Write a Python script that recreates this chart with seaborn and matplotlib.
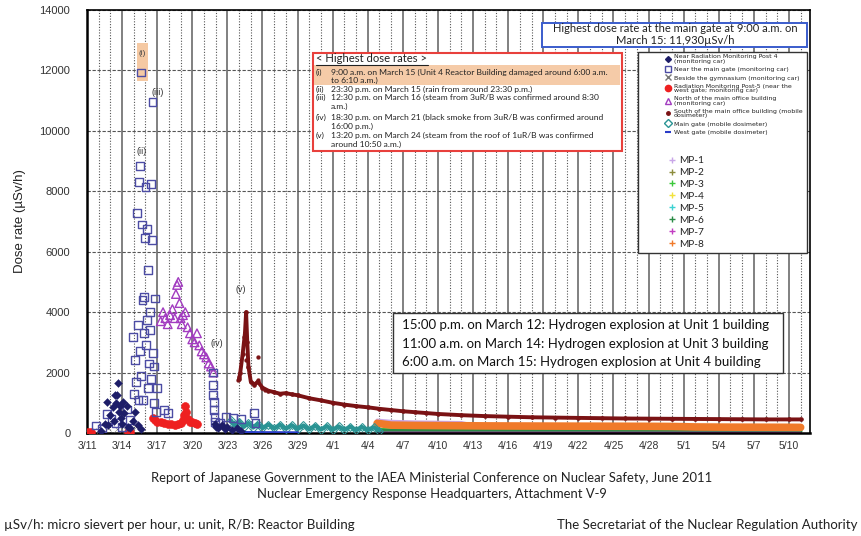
import matplotlib
matplotlib.use("Agg")
import matplotlib.pyplot as plt
from matplotlib.lines import Line2D
from matplotlib.patches import Rectangle
from matplotlib.ticker import MultipleLocator
import seaborn as sns
import pandas as pd

sns.set_theme(style="white")
plt.rcParams['font.family'] = ['Liberation Sans', 'DejaVu Sans']
BOX_FONT = ['Lato', 'DejaVu Sans']

# ---- data (x = days since 3/11 00:00, y = dose rate in uSv/h) ----
x_tick_labels = ['3/11', '3/14', '3/17', '3/20', '3/23', '3/26', '3/29', '4/1', '4/4', '4/7',
                 '4/10', '4/13', '4/16', '4/19', '4/22', '4/25', '4/28', '5/1', '5/4', '5/7', '5/10']

post4_day = [1.2, 1.5, 1.7, 1.8, 2.0, 2.2, 2.3, 2.4, 2.5, 2.6, 2.65, 2.75, 2.8, 2.9, 3.0, 3.1, 3.2,
             3.4, 3.5, 3.7, 3.9, 4.1, 4.4, 4.6, 10.9, 11.0, 11.2, 11.5, 11.8, 12.0, 12.4, 12.8, 13.2]
post4_val = [60, 300, 1030, 250, 600, 850, 400, 1260, 1000, 1250, 1660, 700, 900, 500, 300, 1030, 650,
             900, 200, 150, 400, 700, 250, 120, 300, 200, 150, 250, 120, 200, 100, 150, 80]

gate_day = [0.8, 1.3, 1.7, 2.1, 2.5, 3.0, 3.4, 3.7, 3.9, 4.0, 4.1, 4.2, 4.3, 4.35, 4.4, 4.45, 4.5,
            4.55, 4.65, 4.65, 4.7, 4.75, 4.8, 4.85, 4.9, 4.95, 5.0, 5.05, 5.1, 5.15, 5.2, 5.25, 5.3,
            5.35, 5.4, 5.45, 5.5, 5.55, 5.6, 5.65, 5.7, 5.75, 5.8, 5.9, 6.0, 6.6, 6.9,
            10.75, 10.8, 10.8, 10.85, 10.85, 10.9, 10.95, 11.4, 11.9, 12.5, 13.2, 14.3, 14.4]
gate_val = [250, 150, 640, 450, 330, 200, 780, 420, 3190, 1300, 2420, 1700, 7290, 3580, 1100, 8300, 2700,
            8850, 11930, 1900, 6900, 4400, 1100, 3300, 4500, 6450, 8150, 2900, 3750, 6750, 1500, 5400, 2300,
            4000, 3400, 1800, 8250, 6400, 10950, 2650, 2200, 1000, 4450, 700, 1500, 760, 650,
            2000, 1600, 1250, 1030, 760, 530, 370, 330, 530, 500, 460, 660, 330]

gym_day = [1.0, 1.8, 2.6, 3.3, 4.2]
gym_val = [80, 150, 120, 90, 200]

post5_day = [0.1, 0.3, 3.5, 3.7, 5.6, 5.8, 6.0, 6.3, 6.6, 6.9, 7.2, 7.5, 7.8, 8.0, 8.2, 8.3, 8.4,
             8.5, 8.6, 8.8, 9.0, 9.2, 9.4]
post5_val = [30, 20, 30, 20, 500, 420, 380, 360, 330, 300, 290, 280, 300, 330, 420, 600, 900,
             700, 450, 350, 380, 330, 300]

north_day = [6.3, 6.5, 6.7, 6.9, 7.1, 7.3, 7.5, 7.6, 7.7, 7.8, 7.9, 8.0, 8.1, 8.2, 8.4, 8.6, 8.8,
             9.0, 9.2, 9.4, 9.6, 9.8, 10.0, 10.2, 10.4, 10.6, 10.8]
north_val = [3700, 4000, 3800, 3600, 3900, 4100, 3800, 4600, 4900, 5000, 4300, 3800, 3600, 3900, 4000, 3500, 3300,
             3100, 3000, 3300, 2900, 2700, 2600, 2500, 2300, 2200, 2000]

south_day = [13.0, 13.1, 13.3, 13.5, 13.6, 13.7, 13.8, 14.0, 14.3, 14.6, 15.0, 15.5, 16.0, 16.5, 17.0, 17.5,
             18.0, 19, 20, 21, 22, 23, 24, 25, 26, 27, 28, 29, 30, 32, 34, 36, 38, 40, 42, 44, 46, 48,
             50, 52, 54, 56, 58, 60, 61]
south_val = [1800, 2000, 2600, 3300, 4000, 3000, 2200, 1700, 1600, 1700, 1500, 1400, 1350, 1300, 1320, 1280,
             1250, 1150, 1080, 1000, 940, 890, 850, 800, 760, 720, 690, 660, 630, 590, 560, 540, 520, 510, 500, 490,
             480, 475, 470, 465, 460, 455, 450, 450, 450]
south_extra_day = [12.9, 13.0, 13.4, 13.6, 14.6, 14.6, 15.2]
south_extra_val = [1760, 1860, 3190, 2420, 2520, 1760, 1430]

maingate_day = [12.3, 12.6, 13.0, 13.4, 13.8, 14.2, 14.6, 15.0, 15.5, 16.0, 16.5, 17.0, 17.5, 18.0,
                18.5, 19.0, 19.5, 20.0, 20.5, 21.0, 21.5, 22.0, 22.5, 23.0, 23.5, 24.0, 24.5, 25.0]
maingate_val = [420, 250, 380, 200, 330, 180, 300, 160, 280, 150, 270, 140, 260, 130,
                250, 120, 240, 110, 230, 100, 220, 100, 210, 90, 200, 90, 190, 80]

westgate_day = [13.0, 14.0, 15.0, 16.0, 17.0, 18.0]
westgate_val = [20, 18, 15, 15, 12, 10]

mp_day = [24.8, 26, 28, 30, 32, 34, 36, 38, 40, 42, 44, 46, 48, 50, 52, 54, 56, 58, 60, 61]
mp1_val = [420, 380, 360, 350, 340, 180, 150, 140, 130, 120, 115, 110, 105, 100, 95, 92, 90, 88, 85, 82]
mp2_val = [40, 38, 37, 36, 35, 34, 33, 32, 31, 30, 30, 29, 29, 28, 28, 27, 27, 26, 26, 26]
mp3_val = [110, 100, 95, 92, 90, 88, 86, 84, 82, 80, 79, 78, 77, 76, 75, 74, 73, 72, 72, 71]
mp4_val = [25, 24, 23, 22, 21, 20, 20, 19, 19, 18, 18, 17, 17, 17, 16, 16, 16, 15, 15, 15]
mp5_val = [15, 14, 14, 13, 13, 12, 12, 12, 11, 11, 11, 10, 10, 10, 10, 9, 9, 9, 9, 9]
mp6_val = [90, 80, 75, 72, 70, 68, 66, 65, 64, 63, 62, 61, 60, 59, 58, 57, 56, 55, 55, 54]
mp7_val = [12, 11, 11, 10, 10, 10, 9, 9, 9, 9, 8, 8, 8, 8, 8, 7, 7, 7, 7, 7]
mp8_val = [320, 260, 250, 245, 240, 235, 232, 230, 228, 226, 224, 222, 220, 215, 200, 195, 192, 190, 188, 186]

NAVY = '#1d1d68'
GATE = '#4c4ca4'
RED = '#ee2020'
PURPLE = '#a23cc0'
DARKRED = '#7a1214'
TEAL = '#2a9494'
WEST = '#2a3cc8'
MP_COLORS = ['#c9a6e8', '#8c8c3c', '#3cc83c', '#f2e23c', '#3cd2d2', '#2a8a46', '#c23cc2', '#f07a2a']

W, H = 862, 536


def fx(x):
    return x / W


def fy(y):
    return 1 - y / H


fig = plt.figure(figsize=(8.62, 5.36), dpi=100)
ax = fig.add_axes([fx(87), fy(433), fx(810) - fx(87), fy(10) - fy(433)])

# MP lines at the bottom
mp_vals = [mp1_val, mp2_val, mp3_val, mp4_val, mp5_val, mp6_val, mp7_val, mp8_val]
mp_df = pd.DataFrame({'day': mp_day * 8,
                      'dose': sum(mp_vals, []),
                      'point': sum([[f'MP-{i + 1}'] * len(mp_day) for i in range(8)], [])})
for i, (name, grp) in enumerate(mp_df.groupby('point', sort=True)):
    lw = 5.5 if name == 'MP-8' else (2.5 if name in ('MP-6', 'MP-3', 'MP-1') else 1.5)
    sns.lineplot(data=grp, x='day', y='dose', color=MP_COLORS[i], lw=lw, ax=ax,
                 legend=False, zorder=3 if name == 'MP-8' else 2)

sns.lineplot(x=maingate_day, y=maingate_val, color=TEAL, lw=3, marker='D', markersize=4.5,
             markerfacecolor='none', markeredgecolor=TEAL, ax=ax, zorder=3)
sns.lineplot(x=westgate_day, y=westgate_val, color=WEST, lw=2, ax=ax, zorder=3)
sns.scatterplot(x=gym_day, y=gym_val, marker='x', color='#777777', s=20, ax=ax, zorder=3)
sns.scatterplot(x=post5_day, y=post5_val, marker='o', color=RED, edgecolor=RED, s=32, ax=ax, zorder=4)
sns.scatterplot(x=north_day, y=north_val, marker='^', facecolor='none', edgecolor=PURPLE,
                linewidth=1, s=38, ax=ax, zorder=4)
sns.lineplot(x=south_day, y=south_val, color=DARKRED, lw=2.8, marker='o', markersize=2.5,
             markeredgecolor=DARKRED, ax=ax, zorder=5)
sns.scatterplot(x=south_extra_day, y=south_extra_val, color=DARKRED, edgecolor=DARKRED, s=8, ax=ax, zorder=5)
sns.scatterplot(x=gate_day, y=gate_val, marker='s', facecolor='none', edgecolor=GATE,
                linewidth=1, s=32, ax=ax, zorder=5)
sns.scatterplot(x=post4_day, y=post4_val, marker='D', color=NAVY, edgecolor=NAVY, s=16, ax=ax, zorder=6)

# peak labels
ax.add_patch(Rectangle((4.25, 11650), 0.95, 1250, facecolor='#f5c9a3', edgecolor='none', zorder=4))
ax.text(4.7, 12550, '(i)', ha='center', va='center', fontsize=6, color='#444444', zorder=7)
ax.text(4.7, 9330, '(ii)', ha='center', va='center', fontsize=6.5, color='#333333', zorder=7)
ax.text(6.0, 11280, '(iii)', ha='center', va='center', fontsize=6.5, color='#333333', zorder=7)
ax.text(11.1, 2970, '(iv)', ha='center', va='center', fontsize=6.5, color='#333333', zorder=7)
ax.text(13.1, 4740, '(v)', ha='center', va='center', fontsize=6.5, color='#333333', zorder=7)

# axes, ticks and grid
ax.set_xlim(0, 61.8)
ax.set_ylim(0, 14000)
ax.set_xticks(range(0, 61, 3))
ax.set_xticklabels(x_tick_labels)
ax.xaxis.set_minor_locator(MultipleLocator(1))
ax.set_yticks(range(0, 14001, 2000))
ax.tick_params(axis='both', which='both', length=0, labelsize=7.5, colors='#333333')
ax.tick_params(axis='x', pad=6)
ax.tick_params(axis='y', labelsize=8, pad=12)
ax.grid(axis='x', which='major', linestyle='-', color='#808080', lw=1.4)
ax.grid(axis='x', which='minor', linestyle=(0, (1, 1.5)), color='#555555', lw=0.8)
ax.grid(axis='y', which='major', linestyle=(0, (3, 1.5)), color='#555555', lw=0.8)
ax.set_axisbelow(True)
for s in ax.spines.values():
    s.set_color('black')
    s.set_linewidth(1.2)
ax.spines['left'].set_linewidth(1.8)
ax.spines['bottom'].set_linewidth(1.8)
ax.set_xlabel('')
ax.set_ylabel('Dose rate (µSv/h)', fontsize=9.5, color='#222222', labelpad=10)

# blue box
fig.add_artist(Rectangle((fx(542), fy(47)), fx(807) - fx(542), fy(23) - fy(47), transform=fig.transFigure,
                         facecolor='white', edgecolor='#3a5ccc', lw=1.4, zorder=2))
fig.text(fx(675), fy(29), 'Highest dose rate at the main gate at 9:00 a.m. on', ha='center', va='center',
         fontsize=8.0, family=BOX_FONT, color='#222222', zorder=3)
fig.text(fx(675), fy(40), 'March 15: 11,930µSv/h', ha='center', va='center',
         fontsize=8.0, family=BOX_FONT, color='#222222', zorder=3)

# red box with the peak list
fig.add_artist(Rectangle((fx(313), fy(151)), fx(622) - fx(313), fy(53) - fy(151), transform=fig.transFigure,
                         facecolor='white', edgecolor='#e8403c', lw=1.5, zorder=2))
fig.add_artist(Rectangle((fx(314), fy(85)), fx(620) - fx(314), fy(65) - fy(85), transform=fig.transFigure,
                         facecolor='#f5cba8', edgecolor='none', zorder=2))
fig.text(fx(316), fy(59), '< Highest dose rates >', ha='left', va='center', fontsize=8.1,
         family=BOX_FONT, color='#222222', zorder=3)
fig.add_artist(Line2D([fx(316), fx(428)], [fy(65), fy(65)], transform=fig.transFigure, color='#222222', lw=0.8,
                      zorder=3))
peak_rows = [
    ('(i)', 72, '9:00 a.m. on March 15 (Unit 4 Reactor Building damaged around 6:00 a.m.'),
    ('', 80, 'to 6:10 a.m.)'),
    ('(ii)', 89, '23:30 p.m. on March 15 (rain from around 23:30 p.m.)'),
    ('(iii)', 97, '12:30 p.m. on March 16 (steam from 3uR/B was confirmed around 8:30'),
    ('', 106, 'a.m.)'),
    ('(iv)', 117, '18:30 p.m. on March 21 (black smoke from 3uR/B was confirmed around'),
    ('', 126, '16:00 p.m.)'),
    ('(v)', 135, '13:20 p.m. on March 24 (steam from the roof of 1uR/B was confirmed'),
    ('', 144, 'around 10:50 a.m.)'),
]
for lab, yy, body in peak_rows:
    if lab:
        fig.text(fx(316), fy(yy), lab, ha='left', va='center', fontsize=6.1, family=BOX_FONT,
                 color='#222222', zorder=3)
    fig.text(fx(331), fy(yy), body, ha='left', va='center', fontsize=6.1, family=BOX_FONT,
             color='#222222', zorder=3)

# explosion box
fig.add_artist(Rectangle((fx(393), fy(373)), fx(783) - fx(393), fy(313) - fy(373), transform=fig.transFigure,
                         facecolor='white', edgecolor='#333333', lw=1.0, zorder=2))
explosions = ['15:00 p.m. on March 12: Hydrogen explosion at Unit 1 building',
              '11:00 a.m. on March 14: Hydrogen explosion at Unit 3 building',
              '6:00 a.m. on March 15: Hydrogen explosion at Unit 4 building']
for yy, line in zip([325, 344, 362], explosions):
    fig.text(fx(402), fy(yy), line, ha='left', va='center', fontsize=9.5, family=BOX_FONT,
             color='#111111', zorder=3)

# legend box, one legend for the site names and one for the MP posts
fig.add_artist(Rectangle((fx(638), fy(253)), fx(807) - fx(638), fy(52) - fy(253), transform=fig.transFigure,
                         facecolor='white', edgecolor='#333333', lw=1.0, zorder=2))
site_handles = [
    Line2D([], [], ls='none', marker='D', color=NAVY, ms=3),
    Line2D([], [], ls='none', marker='s', mfc='none', mec=GATE, ms=4.5),
    Line2D([], [], ls='none', marker='x', color='#777777', ms=4),
    Line2D([], [], ls='none', marker='o', color=RED, ms=4.5),
    Line2D([], [], ls='none', marker='^', mfc='none', mec=PURPLE, ms=4.5),
    Line2D([], [], ls='none', marker='o', color=DARKRED, ms=2.5),
    Line2D([], [], ls='none', marker='D', mfc='none', mec=TEAL, ms=4),
    Line2D([], [], ls='none', marker='_', color=WEST, ms=4, mew=1.5),
]
site_labels = ['Near Radiation Monitoring Post 4\n(monitoring car)',
               'Near the main gate (monitoring car)',
               'Beside the gymnasium (monitoring car)',
               'Radiation Monitoring Post-5 (near the\nwest gate; monitoring car)',
               'North of the main office building\n(monitoring car)',
               'South of the main office building (mobile\ndosimeter)',
               'Main gate (mobile dosimeter)',
               'West gate (mobile dosimeter)']
leg1 = fig.legend(site_handles, site_labels, loc='upper left', bbox_to_anchor=(fx(661), fy(51)),
                  frameon=False, handlelength=1.1, handletextpad=0.5, labelspacing=0.5, borderpad=0,
                  prop={'family': 'DejaVu Sans', 'size': 4.5})
leg1.set_zorder(4)
for t in leg1.get_texts():
    t.set_linespacing(0.85)
    t.set_color('#222222')

mp_handles = [Line2D([], [], ls='none', marker='+', color=c, ms=5) for c in MP_COLORS]
mp_labels = [f'MP-{i}' for i in range(1, 9)]
leg2 = fig.legend(mp_handles, mp_labels, loc='upper left', bbox_to_anchor=(fx(664), fy(151)),
                  frameon=False, handlelength=0.6, handletextpad=0.4, labelspacing=0.28, borderpad=0,
                  prop={'family': BOX_FONT, 'size': 7.3})
leg2.set_zorder(4)
for t in leg2.get_texts():
    t.set_color('#222222')

# footer
fig.text(fx(432), fy(478), 'Report of Japanese Government to the IAEA Ministerial Conference on Nuclear Safety, June 2011',
         ha='center', va='center', fontsize=9.4, family=BOX_FONT, color='#222222')
fig.text(fx(432), fy(494), 'Nuclear Emergency Response Headquarters, Attachment V-9',
         ha='center', va='center', fontsize=9.4, family=BOX_FONT, color='#222222')
fig.text(fx(4), fy(525), 'µSv/h: micro sievert per hour, u: unit, R/B: Reactor Building',
         ha='left', va='center', fontsize=9.6, family=BOX_FONT, color='#222222')
fig.text(fx(858), fy(525), 'The Secretariat of the Nuclear Regulation Authority',
         ha='right', va='center', fontsize=9.5, family=BOX_FONT, color='#222222')

fig.savefig('out.png', dpi=100)
